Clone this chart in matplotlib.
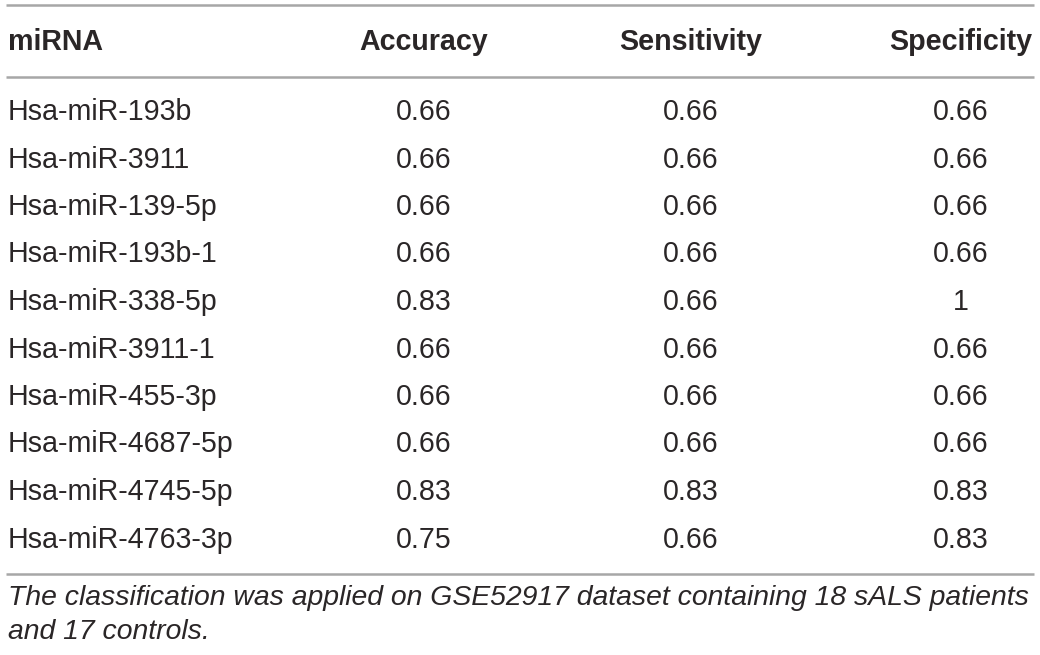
import matplotlib
matplotlib.use("Agg")
import matplotlib.pyplot as plt

# Table data
headers = ["miRNA", "Accuracy", "Sensitivity", "Specificity"]
mirnas = ["Hsa-miR-193b", "Hsa-miR-3911", "Hsa-miR-139-5p", "Hsa-miR-193b-1",
          "Hsa-miR-338-5p", "Hsa-miR-3911-1", "Hsa-miR-455-3p", "Hsa-miR-4687-5p",
          "Hsa-miR-4745-5p", "Hsa-miR-4763-3p"]
accuracy = ["0.66", "0.66", "0.66", "0.66", "0.83", "0.66", "0.66", "0.66", "0.83", "0.75"]
sensitivity = ["0.66", "0.66", "0.66", "0.66", "0.66", "0.66", "0.66", "0.66", "0.83", "0.66"]
specificity = ["0.66", "0.66", "0.66", "0.66", "1", "0.66", "0.66", "0.66", "0.83", "0.83"]
caption = ["The classification was applied on GSE52917 dataset containing 18 sALS patients",
           "and 17 controls."]

plt.rcParams['font.family'] = ['Liberation Sans', 'DejaVu Sans']
fig = plt.figure(figsize=(10.4, 6.55), dpi=100)
ax = fig.add_axes([0, 0, 1, 1])
ax.set_xlim(0, 1040)
ax.set_ylim(655, 0)
ax.axis("off")

txt = "#2a2627"
line_col = "#a7a7a7"
fs = 20.6

# rules
for y in [5, 77, 574]:
    ax.plot([6, 1034], [y, y], color=line_col, linewidth=1.8, solid_capstyle="butt")

# header
head_y = 42
ax.text(8, head_y, headers[0], ha="left", va="center", fontsize=fs, fontweight="bold", color=txt)
col_x = [424, 691, 961]
for x, h in zip(col_x, headers[1:]):
    ax.text(x, head_y, h, ha="center", va="center", fontsize=fs, fontweight="bold", color=txt)

# rows
row_y0, row_dy = 112, 47.5
for i, name in enumerate(mirnas):
    y = row_y0 + i * row_dy
    ax.text(8, y, name, ha="left", va="center", fontsize=fs, color=txt)
    for x, col in zip(col_x, [accuracy, sensitivity, specificity]):
        ax.text(x, y, col[i], ha="center", va="center", fontsize=fs, color=txt)

# caption
for j, line in enumerate(caption):
    ax.text(8, 598 + j * 34, line, ha="left", va="center", fontsize=20.4, style="italic", color=txt)

fig.savefig("out.png", dpi=100)
